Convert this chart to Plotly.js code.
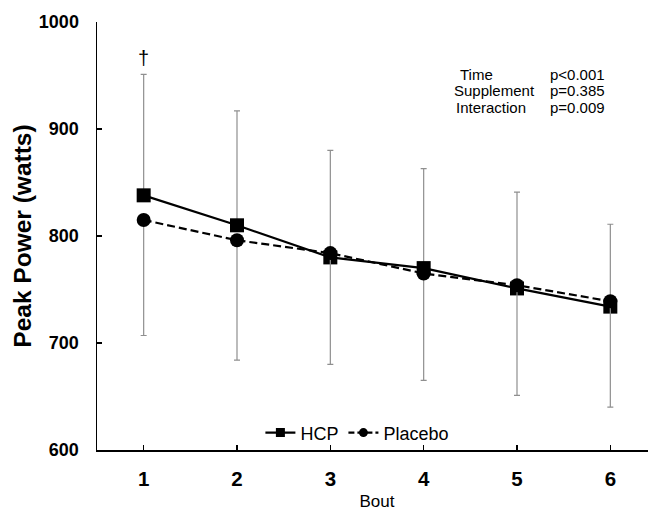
<!DOCTYPE html>
<html>
<head>
<meta charset="utf-8">
<script src="https://cdn.plot.ly/plotly-3.0.1.min.js"></script>
<style>
html, body { margin: 0; padding: 0; overflow: hidden; background: #fff; }
#chart { width: 660px; height: 511px; }
</style>
</head>
<body>
<div id="chart"></div>
<script>
// Data
var bouts = ['1', '2', '3', '4', '5', '6'];
var hcpPower = [838, 810, 780, 770, 751, 734];
var placeboPower = [815, 796, 784, 765, 754, 739];
var hcpSDUpper = [113, 107, 100, 93, 90, 77];
var placeboSDLower = [108, 112, 104, 100, 103, 99];
var zeros = [0, 0, 0, 0, 0, 0];
var statLabels = ['Time', 'Supplement', 'Interaction'];
var statValues = ['p<0.001', 'p=0.385', 'p=0.009'];

var errColor = '#8f8f8f';

var traces = [
  {
    x: bouts, y: hcpPower, type: 'scatter', mode: 'lines+markers', name: 'HCP',
    showlegend: false,
    line: { color: '#000', width: 2.2 },
    marker: { symbol: 'square', size: 14, color: '#000' },
    error_y: { type: 'data', symmetric: false, array: hcpSDUpper, arrayminus: zeros,
      color: errColor, thickness: 1.2, width: 3 }
  },
  {
    x: bouts, y: placeboPower, type: 'scatter', mode: 'lines+markers', name: 'Placebo',
    showlegend: false,
    line: { color: '#000', width: 2.2, dash: '8px,4px' },
    marker: { symbol: 'circle', size: 14, color: '#000' },
    error_y: { type: 'data', symmetric: false, array: zeros, arrayminus: placeboSDLower,
      color: errColor, thickness: 1.2, width: 3 }
  },
  {
    x: [null], y: [null], type: 'scatter', mode: 'lines+markers', name: 'HCP',
    line: { color: '#000', width: 2.2 },
    marker: { symbol: 'square', size: 9, color: '#000' }, hoverinfo: 'skip'
  },
  {
    x: [null], y: [null], type: 'scatter', mode: 'lines+markers', name: 'Placebo',
    line: { color: '#000', width: 2.2, dash: '6px,3px' },
    marker: { symbol: 'circle', size: 9, color: '#000' }, hoverinfo: 'skip'
  }
];

var annFont = { family: 'Liberation Sans, Arial, sans-serif', size: 15, color: '#000' };
var labelX = [3.37, 3.30, 3.32];
var rowY = [951, 936, 920];
var annotations = [];
for (var i = 0; i < statLabels.length; i++) {
  annotations.push({ x: labelX[i], y: rowY[i], xref: 'x', yref: 'y', text: statLabels[i],
    showarrow: false, xanchor: 'left', yanchor: 'middle', font: annFont });
  annotations.push({ x: 4.33, y: rowY[i], xref: 'x', yref: 'y', text: statValues[i],
    showarrow: false, xanchor: 'left', yanchor: 'middle', font: annFont });
}
annotations.push({ x: 0, y: 966, xref: 'x', yref: 'y', text: '†', showarrow: false,
  xanchor: 'center', yanchor: 'middle',
  font: { family: 'Liberation Sans, Arial, sans-serif', size: 20, color: '#000' } });

var layout = {
  width: 660, height: 511,
  margin: { l: 97, r: 3, t: 22, b: 61 },
  paper_bgcolor: '#fff', plot_bgcolor: '#fff',
  font: { family: 'Liberation Sans, Arial, sans-serif', color: '#000' },
  showlegend: true,
  legend: {
    orientation: 'h', x: 0.465, y: 0.04, xanchor: 'center', yanchor: 'middle',
    bgcolor: 'rgba(0,0,0,0)', font: { size: 18, color: '#000' }, traceorder: 'normal'
  },
  xaxis: {
    type: 'category', range: [-0.5, 5.5],
    showline: true, linecolor: '#000', linewidth: 1.5, mirror: false,
    showgrid: false, zeroline: false,
    ticks: 'inside', ticklen: 5, tickwidth: 1.5, tickcolor: '#000',
    tickfont: { size: 20.5, color: '#000', family: 'Liberation Sans, Arial, sans-serif', weight: 'bold' },
    ticklabelstandoff: 10,
    title: { text: 'Bout', font: { size: 17, color: '#000' }, standoff: 9 }
  },
  yaxis: {
    range: [600, 1000], tickvals: [600, 700, 800, 900, 1000],
    showline: true, linecolor: '#000', linewidth: 1.5,
    showgrid: false, zeroline: false,
    ticks: 'inside', ticklen: 5, tickwidth: 1.5, tickcolor: '#000',
    tickfont: { size: 18, color: '#000', family: 'Liberation Sans, Arial, sans-serif', weight: 'bold' },
    ticklabelstandoff: 13,
    title: { text: 'Peak Power (watts)', font: { size: 24.5, color: '#000', weight: 'bold' }, standoff: 0 }
  },
  annotations: annotations
};

Plotly.newPlot('chart', traces, layout, { displayModeBar: false, staticPlot: true });
</script>
</body>
</html>
